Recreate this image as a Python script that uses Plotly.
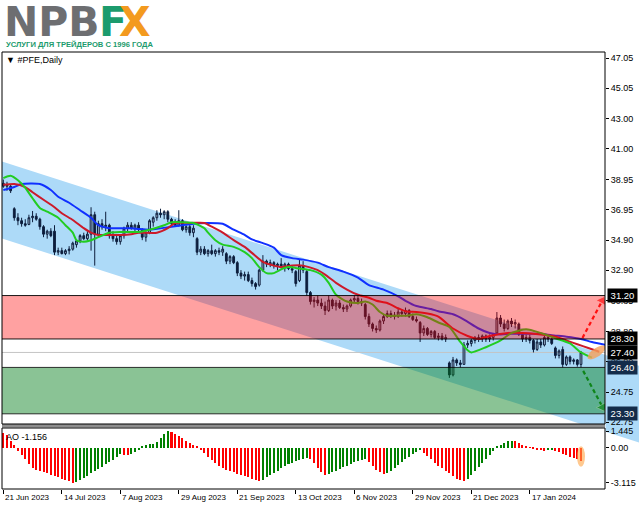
import numpy as np
import plotly.graph_objects as go

# ---------------- data ----------------
DATE_TICK_IDX = [0, 16, 32, 48, 64, 80, 96, 112, 128, 144]
DATE_TICK_TXT = ["21 Jun 2023", "14 Jul 2023", "7 Aug 2023", "29 Aug 2023", "21 Sep 2023",
                 "13 Oct 2023", "6 Nov 2023", "29 Nov 2023", "21 Dec 2023", "17 Jan 2024"]

OPEN = [38.70,38.50,38.50,37.00,36.40,36.20,36.00,35.95,36.40,36.50,
        36.30,35.80,35.30,35.50,35.50,34.10,34.20,34.00,34.20,34.30,
        34.60,34.85,35.20,35.00,35.30,36.60,35.30,36.00,35.80,35.90,
        35.20,35.00,34.80,35.20,35.70,35.90,35.70,35.90,35.60,35.10,
        35.40,36.10,36.40,36.70,36.60,36.80,36.30,36.00,35.90,36.20,
        35.60,35.80,35.40,35.00,34.10,34.30,34.00,34.20,34.00,34.20,
        34.10,34.00,33.50,33.80,33.40,32.70,32.50,32.60,32.20,32.00,
        31.90,32.90,33.50,33.30,33.40,33.20,33.30,33.10,33.30,33.00,
        32.80,32.20,33.20,32.80,31.40,30.80,30.90,30.70,30.50,30.20,
        30.90,30.50,30.70,30.40,30.30,30.50,30.90,31.00,30.80,30.60,
        29.80,29.30,29.00,28.90,29.50,29.80,30.00,29.90,29.80,30.10,
        30.00,30.20,29.80,29.60,29.40,28.70,29.00,28.60,28.80,28.40,
        28.50,28.30,26.70,25.90,26.90,26.70,26.60,27.90,28.00,28.20,
        28.40,28.30,28.50,28.30,28.40,28.70,29.70,29.30,29.00,29.50,
        29.30,29.30,28.60,28.30,28.40,28.20,27.60,28.10,27.90,28.40,
        28.30,27.70,27.20,27.60,26.60,27.10,26.80,26.90,26.60]
HIGH = [38.95,38.80,38.65,37.10,36.70,36.40,36.30,36.60,36.85,36.70,
        36.40,35.90,35.60,35.70,35.90,34.40,34.40,34.30,34.50,34.80,
        34.95,35.30,35.40,35.50,37.10,36.80,36.20,36.30,36.80,36.00,
        35.50,35.30,35.30,35.80,36.10,36.10,36.00,36.10,35.70,35.50,
        36.30,36.50,36.90,37.00,36.90,36.90,36.40,36.30,36.90,36.30,
        35.90,36.00,35.90,35.10,34.50,34.50,34.30,34.60,34.30,34.40,
        34.50,34.10,33.90,33.90,33.50,32.90,32.80,32.80,32.40,32.10,
        33.00,33.90,33.60,33.60,33.50,33.40,33.70,33.40,33.40,33.20,
        32.90,33.60,33.50,32.90,31.50,31.10,31.20,31.00,30.80,31.20,
        31.00,30.90,30.90,30.60,30.60,31.00,31.20,31.20,31.00,30.70,
        30.00,29.40,29.20,29.60,29.90,30.20,30.20,30.10,30.30,30.30,
        30.40,30.30,30.00,29.80,29.50,29.20,29.10,28.90,28.90,28.70,
        28.70,28.60,26.80,27.10,27.00,26.90,28.10,28.20,28.30,28.50,
        28.60,28.60,28.60,28.60,28.70,30.10,29.90,29.60,29.60,29.70,
        29.60,29.40,28.70,28.60,28.60,28.30,28.30,28.30,28.50,28.60,
        28.40,27.80,27.60,27.80,27.20,27.20,27.00,26.95,27.50]
LOW = [38.40,38.20,38.05,36.20,35.90,35.80,35.80,35.90,36.10,36.20,
       35.60,35.10,35.00,35.10,33.90,33.90,33.95,33.90,33.95,34.20,
       34.40,34.70,34.90,34.90,34.20,33.20,35.10,35.60,35.50,35.00,
       34.80,34.60,34.60,35.00,35.50,35.60,35.40,35.50,34.90,34.80,
       35.30,35.80,36.20,36.40,36.30,36.10,35.80,35.80,35.80,35.50,
       35.40,35.20,35.10,33.90,33.90,33.90,33.80,33.90,33.80,33.90,
       33.85,33.30,33.30,33.30,32.50,32.30,32.20,32.10,31.80,31.60,
       31.80,32.80,33.10,33.10,33.00,32.90,33.00,32.80,32.90,32.70,
       31.80,32.10,32.70,31.20,30.60,30.40,30.50,30.30,29.90,30.10,
       30.30,30.20,30.30,30.10,30.10,30.40,30.70,30.60,30.50,29.60,
       29.10,28.80,28.70,28.80,29.30,29.70,29.70,29.60,29.70,29.80,
       29.80,29.70,29.50,29.40,28.10,28.50,28.50,28.40,28.30,28.20,
       28.20,28.10,25.70,25.80,26.50,26.40,26.60,27.70,27.80,28.00,
       28.10,28.10,28.10,28.10,28.20,28.60,29.10,28.80,28.90,29.10,
       29.00,28.50,28.10,28.10,28.00,27.40,27.50,27.70,27.80,28.10,
       27.90,27.00,27.00,26.40,26.50,26.60,26.60,26.45,26.40]
CLOSE = [38.50,38.60,38.20,36.40,36.20,36.00,35.90,36.40,36.50,36.30,
         35.80,35.30,35.50,35.20,34.10,34.20,34.00,34.20,34.30,34.70,
         34.85,35.20,35.00,35.30,36.60,35.30,36.00,35.80,35.90,35.20,
         35.00,34.80,35.20,35.70,35.90,35.70,35.90,35.60,35.10,35.40,
         36.20,36.40,36.70,36.60,36.80,36.30,36.00,35.90,36.20,35.60,
         35.80,35.40,35.70,34.10,34.30,34.00,34.20,34.00,34.20,34.10,
         34.30,33.50,33.80,33.40,32.70,32.50,32.60,32.20,32.00,31.80,
         32.90,33.50,33.30,33.40,33.20,33.30,33.10,33.30,33.00,32.90,
         32.00,33.20,32.90,31.40,30.80,30.90,30.70,30.50,30.20,30.90,
         30.50,30.70,30.40,30.30,30.50,30.90,31.00,30.80,30.70,29.80,
         29.30,29.00,28.90,29.50,29.80,30.00,29.90,29.80,30.10,30.00,
         30.20,29.80,29.60,29.50,28.70,29.00,28.60,28.80,28.40,28.50,
         28.30,28.40,25.90,26.90,26.70,26.60,27.90,28.00,28.20,28.40,
         28.30,28.50,28.30,28.40,28.60,29.70,29.30,29.00,29.50,29.30,
         29.40,28.60,28.30,28.40,28.20,27.60,28.10,27.90,28.40,28.30,
         28.00,27.20,27.50,26.60,27.10,26.80,26.90,26.60,27.40]

# Alligator lines (bar index, value) (already shifted forward)
JAW = [(0,38.25),(3,38.45),(5,38.65),(10,38.65),(13,38.25),(15,37.8),(18,37.4),(21,36.9),
       (24,36.4),(26,35.9),(29,35.7),(32,35.7),(35,35.7),(37,35.65),(40,35.6),(46,35.8),
       (49,35.9),(52,36.0),(56,36.05),(60,36.0),(63,35.6),(66,35.25),(68,34.95),(71,34.7),
       (74,34.4),(76,33.9),(79,33.7),(82,33.6),(86,33.4),(89,33.1),(93,32.8),(97,32.4),
       (100,31.9),(104,31.6),(108,31.15),(110,30.85),(113,30.5),(117,30.3),(119,30.15),
       (123,29.95),(126,29.6),(130,29.0),(133,28.7),(136,28.6),(139,28.65),(143,28.65),
       (147,28.65),(150,28.55),(154,28.45),(158,28.3),(161,28.1),(166,27.85)]
TEETH = [(0,38.6),(3,38.65),(6,38.45),(8,38.1),(11,37.6),(14,37.1),(16,36.7),(19,36.25),
         (22,35.7),(24,35.4),(26,35.25),(29,35.25),(32,35.25),(35,35.3),(37,35.4),(42,35.4),
         (45,35.7),(47,36.05),(51,36.05),(55,36.05),(57,35.8),(60,35.4),(63,34.9),(66,34.45),
         (68,34.05),(71,33.45),(74,33.2),(76,33.1),(79,33.2),(82,33.2),(86,32.9),(88,32.6),
         (91,32.05),(94,31.6),(97,31.25),(100,31.05),(102,30.85),(105,30.7),(108,30.35),
         (110,30.15),(113,30.1),(116,30.0),(119,29.8),(123,29.0),(127,28.5),(130,28.3),
         (133,28.5),(138,28.7),(142,28.7),(145,28.65),(151,28.45),(154,28.2),(157,27.95),
         (160,27.7),(163,27.45)]
LIPS = [(0,39.05),(2,39.2),(4,38.9),(6,38.4),(8,37.7),(10,37.05),(12,36.8),(15,36.4),
        (17,35.9),(19,35.4),(20,34.9),(22,34.8),(24,34.9),(26,35.1),(29,35.4),(32,35.45),
        (35,35.45),(37,35.45),(40,35.6),(44,35.9),(46,36.1),(49,36.1),(52,36.05),(55,35.7),
        (56,35.4),(58,34.9),(60,34.6),(63,34.45),(66,34.1),(68,33.7),(70,33.1),(72,32.7),
        (74,32.7),(76,32.95),(78,33.1),(81,33.0),(84,32.9),(87,32.6),(89,32.05),(91,31.25),
        (94,30.8),(97,30.7),(99,30.8),(101,30.6),(103,30.1),(105,29.85),(108,29.85),
        (110,29.85),(113,29.95),(116,29.75),(119,29.4),(122,29.1),(125,28.1),(127,27.55),
        (128,27.4),(132,27.75),(136,28.2),(139,28.7),(143,28.95),(147,28.7),(151,28.35),
        (155,28.0),(158,27.4),(161,27.05)]

AO = [1.30,1.10,0.60,0.20,-0.30,-0.65,-1.05,-1.50,-1.80,-1.95,
      -2.05,-2.15,-2.30,-2.40,-2.50,-2.65,-2.80,-2.90,-3.00,-3.115,
      -3.05,-2.90,-2.70,-2.50,-2.30,-2.10,-1.90,-1.70,-1.50,-1.30,
      -1.10,-0.80,-0.60,-0.62,-0.66,-0.60,-0.40,-0.20,0.05,0.20,
      0.30,0.35,0.50,0.80,1.20,1.445,1.40,1.20,1.00,0.80,
      0.60,0.40,0.25,0.10,-0.20,-0.50,-0.85,-1.10,-1.35,-1.60,
      -1.80,-1.95,-2.10,-2.20,-2.35,-2.45,-2.55,-2.65,-2.78,-2.88,
      -2.95,-2.85,-2.65,-2.45,-2.25,-2.05,-1.85,-1.65,-1.50,-1.35,
      -1.20,-1.10,-1.00,-0.95,-1.05,-1.40,-1.80,-2.15,-2.40,-2.35,
      -2.20,-2.05,-1.90,-1.75,-1.60,-1.45,-1.30,-1.20,-1.10,-1.00,
      -1.30,-1.65,-1.95,-2.20,-2.35,-2.25,-2.05,-1.80,-1.55,-1.30,
      -1.05,-0.80,-0.60,-0.40,-0.25,-0.45,-0.75,-1.05,-1.35,-1.60,
      -1.85,-2.05,-2.30,-2.55,-2.75,-2.90,-3.00,-2.80,-2.45,-2.10,
      -1.75,-1.40,-1.05,-0.70,-0.35,0.05,0.25,0.40,0.55,0.62,
      0.55,0.40,0.25,0.12,0.02,-0.10,-0.20,-0.25,-0.28,-0.26,
      -0.24,-0.28,-0.40,-0.55,-0.70,-0.85,-0.95,-1.05,-1.156]

PRICE_TICKS = [47.05, 45.05, 43.00, 41.00, 38.95, 36.95, 34.90, 32.90, 30.85, 28.80, 26.80, 24.75, 22.75]
AO_TICKS = [1.445, 0.0, -3.115]
RES_ZONE = (28.30, 31.20)
SUP_ZONE = (23.30, 26.40)
BID = 27.40
LABELS_BLACK = [31.20, 28.30, 27.40]
LABELS_NAVY = [26.40, 23.30]
CH_UP = [(-1, 40.20), (175, 26.43)]   # channel upper line (bar, price)
CH_LO = [(-1, 35.06), (175, 21.29)]   # channel lower line
UP_TARGET = [(158.4, 28.37), (163.8, 30.85)]
DN_TARGET = [(158.6, 26.17), (163.9, 23.75)]

# ---------------- layout geometry ----------------
W, H = 639, 508
ML, MR, MT, MB = 2, 34, 52, 19
PW, PH = W - ML - MR, H - MT - MB
X0, X1 = -0.36, 164.57
P0, P1 = 22.62, 47.47
A0, A1 = -3.673, 1.726
MAIN_DOM = [1 - (424 - MT) / PH, 1.0]
AO_DOM = [0.0, 1 - (428 - MT) / PH]
PXB = PW / (X1 - X0)
PXU = PH * (MAIN_DOM[1] - MAIN_DOM[0]) / (P1 - P0)

def pp(xp, yp):
    return (xp - ML) / PW, (H - MB - yp) / PH

def price_to_py(p):
    return MT + (1 - MAIN_DOM[1]) * PH + (P1 - p) * PXU

def line_at(pts, i):
    (a, pa), (b, pb) = pts
    return pa + (pb - pa) * (i - a) / (b - a)

FONT = "Liberation Sans, Arial, sans-serif"
idx = list(range(len(CLOSE)))

fig = go.Figure()

# candles
fig.add_trace(go.Candlestick(
    x=idx, open=OPEN, high=HIGH, low=LOW, close=CLOSE,
    increasing=dict(line=dict(color="#0d1e3d", width=1), fillcolor="#a9bed6"),
    decreasing=dict(line=dict(color="#0d1e3d", width=1), fillcolor="#0d1e3d"),
    whiskerwidth=0, xaxis="x", yaxis="y", showlegend=False, hoverinfo="skip"))

for pts, col in [(JAW, "#1030ff"), (TEETH, "#cc1a2a"), (LIPS, "#22cc22")]:
    fig.add_trace(go.Scatter(x=[a for a, _ in pts], y=[b for _, b in pts], mode="lines",
                             line=dict(color=col, width=2, shape="spline", smoothing=0.6),
                             xaxis="x", yaxis="y", showlegend=False, hoverinfo="skip"))

for pts, col in [(UP_TARGET, "#ff1a1a"), (DN_TARGET, "#1a8c1a")]:
    fig.add_trace(go.Scatter(x=[a for a, _ in pts], y=[b for _, b in pts], mode="lines+markers",
                             line=dict(color=col, width=2.2, dash="4px,3px"),
                             marker=dict(symbol="triangle-up", size=[0, 10], color=col,
                                         angleref="previous"),
                             xaxis="x", yaxis="y", showlegend=False, hoverinfo="skip"))

# AO histogram
ao_cols = ["#ff0000"] + ["#008000" if AO[k] > AO[k - 1] else "#ff0000" for k in range(1, len(AO))]
fig.add_trace(go.Bar(x=idx, y=AO, marker=dict(color=ao_cols, line=dict(width=0)), width=0.55,
                     xaxis="x", yaxis="y2", showlegend=False, hoverinfo="skip"))

shapes = []
# channel inside main plot
shapes.append(dict(type="path", xref="x", yref="y", layer="below",
                   path=f"M {CH_UP[0][0]},{CH_UP[0][1]} L {CH_UP[1][0]},{CH_UP[1][1]} "
                        f"L {CH_LO[1][0]},{CH_LO[1][1]} L {CH_LO[0][0]},{CH_LO[0][1]} Z",
                   fillcolor="#addaf8", line=dict(width=0)))
# channel overflow into the price-scale column
xa, xb = ML + PW + 0.5, W
ia, ib = X0 + (xa - ML) / PXB, X0 + (xb - ML) / PXB
col_pts = [(xa, price_to_py(line_at(CH_UP, ia))), (xb, price_to_py(line_at(CH_UP, ib))),
           (xb, price_to_py(line_at(CH_LO, ib))), (xa, price_to_py(line_at(CH_LO, ia)))]
col_pp = [pp(a, b) for a, b in col_pts]
shapes.append(dict(type="path", xref="paper", yref="paper", layer="below",
                   path="M " + " L ".join(f"{a},{b}" for a, b in col_pp) + " Z",
                   fillcolor="#addaf8", line=dict(width=0)))
# bid line
shapes.append(dict(type="line", xref="x", yref="y", x0=X0, x1=X1, y0=BID, y1=BID, layer="below",
                   line=dict(color="#c4c4c4", width=1)))
# zones
shapes.append(dict(type="rect", xref="x", yref="y", x0=X0 - 5, x1=X1 + 5, y0=RES_ZONE[0], y1=RES_ZONE[1],
                   fillcolor="rgba(255,0,0,0.37)", line=dict(color="rgba(0,0,0,0.9)", width=1), layer="above"))
shapes.append(dict(type="rect", xref="x", yref="y", x0=X0 - 5, x1=X1 + 5, y0=SUP_ZONE[0], y1=SUP_ZONE[1],
                   fillcolor="rgba(0,125,25,0.46)", line=dict(color="rgba(0,0,0,0.8)", width=1), layer="above"))
# orange blob at alligator mouth
ci, cp, a_px, b_px, ang = 162.25, 27.40, 10.5, 4.2, np.radians(35)
t = np.linspace(0, 2 * np.pi, 40)
dx = a_px * np.cos(t) * np.cos(ang) - b_px * np.sin(t) * np.sin(ang)
dy = a_px * np.cos(t) * np.sin(ang) + b_px * np.sin(t) * np.cos(ang)
bi, bp = ci + dx / PXB, cp + dy / PXU
shapes.append(dict(type="path", xref="x", yref="y", layer="above",
                   path="M " + " L ".join(f"{a:.3f},{b:.3f}" for a, b in zip(bi, bp)) + " Z",
                   fillcolor="rgba(245,160,90,0.8)", line=dict(width=0)))
# AO highlight
last = len(AO) - 1
shapes.append(dict(type="circle", xref="x", yref="y2", x0=last - 1.1, x1=last + 1.1,
                   y0=AO[last] - 0.55, y1=0.12, fillcolor="rgba(255,165,70,0.6)",
                   line=dict(width=0), layer="above"))
# separator + borders
s0 = pp(0, 427.5)[1]; s1 = pp(0, 424)[1]
shapes.append(dict(type="rect", xref="paper", yref="paper", x0=0, x1=1, y0=s0, y1=s1,
                   fillcolor="#8e8e8e", line=dict(width=0)))
for dom in (MAIN_DOM, AO_DOM):
    shapes.append(dict(type="rect", xref="paper", yref="paper", x0=0, x1=1, y0=dom[0], y1=dom[1],
                       line=dict(color="#000", width=1), fillcolor="rgba(0,0,0,0)"))

ann = []
for i, txt in zip(DATE_TICK_IDX, DATE_TICK_TXT):
    ann.append(dict(x=i, xref="x", y=0, yref="paper", yanchor="top", xanchor="left", xshift=0, yshift=-2,
                    text=txt, showarrow=False, font=dict(family=FONT, size=8, color="#000")))
for v in LABELS_BLACK + LABELS_NAVY:
    ann.append(dict(x=1, xref="paper", y=v, yref="y", xanchor="left", yanchor="middle", xshift=2,
                    text=f"{v:.2f}", showarrow=False, width=27, align="center", borderpad=1,
                    bgcolor="#000" if v in LABELS_BLACK else "#132c4a",
                    font=dict(family=FONT, size=9.5, color="#fff")))
x, y = pp(4, 60)
ann.append(dict(x=x, y=y, xref="paper", yref="paper", xanchor="left", yanchor="middle", showarrow=False,
                text="▼ #PFE,Daily", font=dict(family=FONT, size=9, color="#000")))
x, y = pp(4, 437)
ann.append(dict(x=x, y=y, xref="paper", yref="paper", xanchor="left", yanchor="middle", showarrow=False,
                text=f"AO {AO[-1]:.3f}", font=dict(family=FONT, size=9, color="#000")))
# logo
for txt, xp, col in [("NPB", 3, "#6d6e71"), ("F", 98, "#1c9b6d"), ("X", 118, "#f39a1f")]:
    x, y = pp(xp, 22)
    ann.append(dict(x=x, y=y, xref="paper", yref="paper", xanchor="left", yanchor="middle", showarrow=False,
                    height=36, valign="middle", borderpad=0,
                    text=f"<b>{txt}</b>", font=dict(family="DejaVu Sans", size=41, color=col)))
x, y = pp(4, 44)
ann.append(dict(x=x, y=y, xref="paper", yref="paper", xanchor="left", yanchor="middle", showarrow=False,
                text="<b>УСЛУГИ ДЛЯ ТРЕЙДЕРОВ С 1996 ГОДА</b>",
                font=dict(family=FONT, size=7.6, color="#1c9b6d")))

fig.update_layout(
    width=W, height=H, margin=dict(l=ML, r=MR, t=MT, b=MB),
    paper_bgcolor="#fff", plot_bgcolor="#fff", showlegend=False, bargap=0,
    xaxis=dict(range=[X0, X1], domain=[0, 1], anchor="y2", rangeslider=dict(visible=False),
               showgrid=False, zeroline=False, tickvals=DATE_TICK_IDX, ticktext=[""] * len(DATE_TICK_IDX),
               ticks="outside", ticklen=4, tickcolor="#000", showline=False),
    yaxis=dict(range=[P0, P1], domain=MAIN_DOM, anchor="x", side="right", showgrid=False, zeroline=False,
               tickvals=PRICE_TICKS, ticktext=[f"{v:.2f}" for v in PRICE_TICKS], ticks="outside",
               ticklen=3, tickcolor="#000", tickfont=dict(family=FONT, size=9, color="#000")),
    yaxis2=dict(range=[A0, A1], domain=AO_DOM, anchor="x", side="right", showgrid=False, zeroline=False,
                tickvals=AO_TICKS, ticktext=["1.445", "0.00", "-3.115"], ticks="outside",
                ticklen=3, tickcolor="#000", tickfont=dict(family=FONT, size=9, color="#000")),
    shapes=shapes, annotations=ann)

fig.write_html("out.html", config={"displayModeBar": False},
               post_script="document.body.style.margin='0';document.body.style.padding='0';"
                           "document.documentElement.style.overflow='hidden';")
